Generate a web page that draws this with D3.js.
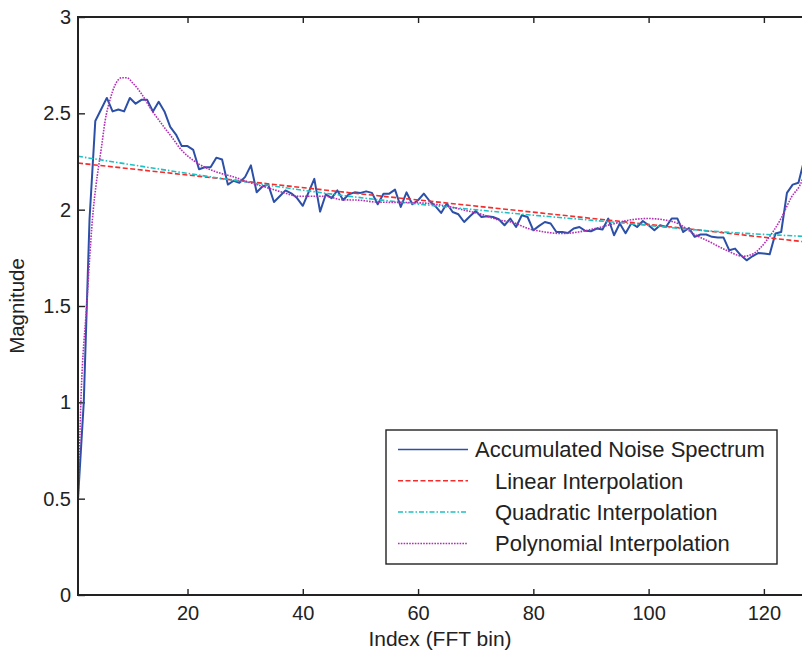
<!DOCTYPE html>
<html>
<head>
<meta charset="utf-8">
<script src="https://cdn.jsdelivr.net/npm/d3@7"></script>
<style>
  html, body { margin: 0; padding: 0; background: #fff; }
  svg { display: block; font-family: "Liberation Sans", Arial, Helvetica, sans-serif; }
</style>
</head>
<body>
<div id="chart"></div>
<script>
// Accumulated noise spectrum, bins 1..128
const noiseSpectrum = [
  0.50, 1.00, 1.95, 2.46, 2.52, 2.58, 2.51, 2.52, 2.51, 2.58,
  2.55, 2.57, 2.57, 2.51, 2.56, 2.51, 2.43, 2.39, 2.33, 2.33,
  2.31, 2.21, 2.22, 2.22, 2.27, 2.26, 2.13, 2.15, 2.14, 2.17,
  2.23, 2.09, 2.12, 2.13, 2.04, 2.07, 2.10, 2.085, 2.06, 2.02,
  2.09, 2.16, 1.99, 2.08, 2.06, 2.10, 2.05, 2.08, 2.09, 2.087,
  2.095, 2.087, 2.028, 2.083, 2.083, 2.104, 2.014, 2.09, 2.028, 2.049,
  2.083, 2.045, 2.018, 1.983, 2.032, 1.988, 1.976, 1.936, 1.966, 1.993,
  1.962, 1.966, 1.962, 1.95, 1.919, 1.954, 1.91, 1.971, 1.962, 1.893,
  1.916, 1.936, 1.928, 1.884, 1.884, 1.879, 1.902, 1.91, 1.89, 1.888,
  1.902, 1.897, 1.954, 1.867, 1.928, 1.878, 1.93, 1.91, 1.941, 1.919,
  1.893, 1.919, 1.91, 1.954, 1.954, 1.884, 1.905, 1.859, 1.871, 1.871,
  1.859, 1.855, 1.855, 1.789, 1.798, 1.763, 1.737, 1.758, 1.775, 1.772,
  1.768, 1.876, 1.884, 2.087, 2.13, 2.14, 2.26, 2.30
];

// fitted curves, sampled where they could be read
const linearBins = [1, 49, 74, 98, 128];
const linearVals = [2.242, 2.085, 2.006, 1.93, 1.83];

const quadBins = [1, 25, 49, 74, 98, 109, 128];
const quadVals = [2.277, 2.166, 2.066, 1.988, 1.924, 1.893, 1.86];

const polyBins = [1, 1.5, 2.5, 3.65, 4.1, 5.1, 5.7, 6.55, 7.4, 8.6, 9.45, 10.6, 12.05, 13.8,
  15.5, 17.25, 19, 21, 23, 25.6, 27.7, 30.5, 33.4, 36.3, 39.2, 43.9, 46.7, 49.9, 52.5,
  60.6, 64.1, 68.1, 71, 74.2, 76.2, 79.1, 82, 84.9, 87.8, 90.7, 93.6, 96.5, 99.9, 103.1,
  105.4, 107.7, 110.6, 113.5, 116.4, 118.2, 120.5, 122.8, 124.8, 126.6, 128];
const polyVals = [0.45, 1.0, 1.5, 2.0, 2.12, 2.33, 2.46, 2.57, 2.645, 2.685, 2.685, 2.654, 2.60, 2.515,
  2.446, 2.377, 2.308, 2.256, 2.22, 2.19, 2.173, 2.144, 2.118, 2.092, 2.07, 2.07, 2.052, 2.049, 2.04,
  2.035, 2.023, 1.997, 1.976, 1.945, 1.936, 1.902, 1.884, 1.876, 1.884, 1.902, 1.924, 1.945, 1.954, 1.945,
  1.924, 1.876, 1.833, 1.789, 1.758, 1.772, 1.841, 1.945, 2.066, 2.152, 2.32];

const xTicks = [20, 40, 60, 80, 100, 120];
const yTicks = [0, 0.5, 1, 1.5, 2, 2.5, 3];
const legendLabels = ['Accumulated Noise Spectrum', 'Linear Interpolation',
  'Quadratic Interpolation', 'Polynomial Interpolation'];

const W = 802, H = 655;
const plotL = 78, plotT = 17, plotB = 595, plotR = 810;

const x = d3.scaleLinear().domain([1, 128]).range([plotL, plotR]);
const y = d3.scaleLinear().domain([0, 3]).range([plotB, plotT]);

const svg = d3.select('#chart').append('svg')
  .attr('width', W)
  .attr('height', H)
  .attr('viewBox', `0 0 ${W} ${H}`);

svg.append('clipPath').attr('id', 'plot-clip')
  .append('rect')
  .attr('x', plotL).attr('y', plotT)
  .attr('width', plotR - plotL).attr('height', plotB - plotT);

const series = [
  { name: legendLabels[0], pts: noiseSpectrum.map((v, i) => [i + 1, v]), color: '#2c50a8', width: 2, dash: null, curve: d3.curveLinear },
  { name: legendLabels[1], pts: linearBins.map((b, i) => [b, linearVals[i]]), color: '#f42c2c', width: 1.6, dash: '5,2.5', curve: d3.curveLinear },
  { name: legendLabels[2], pts: quadBins.map((b, i) => [b, quadVals[i]]), color: '#1fc0c4', width: 1.6, dash: '5,2,1.5,2', curve: d3.curveMonotoneX },
  { name: legendLabels[3], pts: polyBins.map((b, i) => [b, polyVals[i]]), color: '#b22fb5', width: 1.6, dash: '1.6,1.2', curve: d3.curveMonotoneX },
];

// axes: ticks point inward, like Matlab
const axisColor = '#222';
const gx = svg.append('g')
  .attr('transform', `translate(0,${plotB})`)
  .call(d3.axisBottom(x).tickValues(xTicks).tickSizeInner(-6).tickSizeOuter(0).tickPadding(11));
const gxTop = svg.append('g')
  .attr('transform', `translate(0,${plotT})`)
  .call(d3.axisTop(x).tickValues(xTicks).tickSizeInner(-6).tickSizeOuter(0).tickFormat(''));
const gy = svg.append('g')
  .attr('transform', `translate(${plotL},0)`)
  .call(d3.axisLeft(y).tickValues(yTicks).tickSizeInner(-7).tickSizeOuter(0).tickPadding(7)
    .tickFormat(d3.format('')));

[gx, gxTop, gy].forEach((g) => {
  g.select('.domain').remove();
  g.selectAll('line').attr('stroke', axisColor).attr('stroke-width', 1.4);
  g.selectAll('text').attr('fill', axisColor).attr('font-size', 20)
    .attr('font-family', '"Liberation Sans", Arial, sans-serif');
});

// curves
const line = d3.line().x((d) => x(d[0])).y((d) => y(d[1]));
const plot = svg.append('g').attr('clip-path', 'url(#plot-clip)');
plot.selectAll('path')
  .data(series)
  .join('path')
  .attr('fill', 'none')
  .attr('stroke', (d) => d.color)
  .attr('stroke-width', (d) => d.width)
  .attr('stroke-dasharray', (d) => d.dash)
  .attr('stroke-linejoin', 'round')
  .attr('d', (d) => line.curve(d.curve)(d.pts));

// box
svg.append('rect')
  .attr('x', plotL).attr('y', plotT)
  .attr('width', plotR - plotL).attr('height', plotB - plotT)
  .attr('fill', 'none').attr('stroke', axisColor).attr('stroke-width', 2);

// axis titles
svg.append('text')
  .attr('x', 440).attr('y', 646)
  .attr('text-anchor', 'middle')
  .attr('font-size', 21).attr('fill', axisColor)
  .text('Index (FFT bin)');
svg.append('text')
  .attr('transform', `translate(24,${(plotT + plotB) / 2}) rotate(-90)`)
  .attr('text-anchor', 'middle')
  .attr('font-size', 20.5).attr('fill', axisColor)
  .text('Magnitude');

// legend
const lg = svg.append('g').attr('transform', 'translate(386,430)');
lg.append('rect')
  .attr('width', 391).attr('height', 134)
  .attr('fill', '#fff').attr('stroke', axisColor).attr('stroke-width', 1.4);
const rows = lg.selectAll('g.row')
  .data(series)
  .join('g')
  .attr('class', 'row')
  .attr('transform', (d, i) => `translate(0,${19.5 + i * 31.3})`);
rows.append('line')
  .attr('x1', 12).attr('x2', 82)
  .attr('stroke', (d) => d.color)
  .attr('stroke-width', (d) => Math.min(d.width, 1.5))
  .attr('stroke-dasharray', (d) => d.dash);
rows.append('text')
  .attr('x', (d, i) => (i === 0 ? 89 : 109))
  .attr('dy', '0.35em')
  .attr('font-size', 22).attr('fill', axisColor)
  .text((d) => d.name);
</script>
</body>
</html>
